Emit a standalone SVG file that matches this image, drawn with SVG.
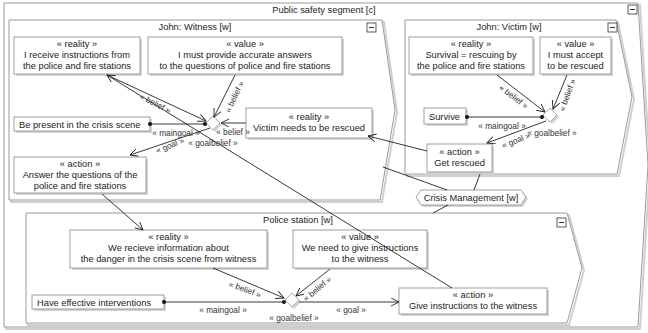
<svg xmlns="http://www.w3.org/2000/svg" width="648" height="333" viewBox="0 0 648 333">
<style>
  text { font-family: "Liberation Sans", Arial, sans-serif; font-size: 9.3px; fill: #222; }
  .t { text-anchor: middle; }
  .lbl { font-size: 8.3px; text-anchor: middle; fill: #333; }
  .cont { fill: #fff; stroke: #9a9a9a; stroke-width: 1; }
  .csh { fill: none; stroke: #d0d0d0; stroke-width: 2; }
  .node { fill: #fff; stroke: #888; stroke-width: 0.8; }
  .nsh { fill: #d4d4d4; }
  .ln { fill: none; stroke: #222; stroke-width: 0.9; }
  .dot { fill: #111; }
  .dia { fill: #fff; stroke: #999; stroke-width: 0.8; }
  .icon { fill: #fff; stroke: #333; stroke-width: 0.8; }
</style>
<defs>
  <marker id="arr" markerWidth="10" markerHeight="10" refX="8" refY="4" orient="auto" markerUnits="userSpaceOnUse">
    <path d="M0,0 L8,4 L0,8" fill="none" stroke="#222" stroke-width="0.9"/>
  </marker>
</defs>

<!-- Outer container -->
<g id="public-safety">
  <polygon class="csh" points="6,5 640,5 650,167 640,329 6,329"/>
  <polygon class="cont" points="4,3 638,3 648,165 638,327 4,327"/>
  <text class="t" x="324" y="13">Public safety segment [c]</text>
  <rect class="icon" x="628" y="5" width="9" height="9"/><line x1="630" y1="9.5" x2="635" y2="9.5" stroke="#333"/>
</g>

<!-- Witness container -->
<g id="witness">
  <polygon class="csh" points="11,22 384,22 397,112 382,202 11,202"/>
  <polygon class="cont" points="9,20 382,20 395,110 380,200 9,200"/>
  <text class="t" x="195" y="30">John: Witness [w]</text>
  <rect class="icon" x="367" y="23" width="9" height="9"/><line x1="369" y1="27.5" x2="374" y2="27.5" stroke="#333"/>
</g>

<!-- Victim container -->
<g id="victim">
  <polygon class="csh" points="407,22 618,22 634,99 619,176 407,176"/>
  <polygon class="cont" points="405,20 616,20 632,97 617,174 405,174"/>
  <text class="t" x="509" y="30">John: Victim [w]</text>
  <rect class="icon" x="608" y="23" width="9" height="9"/><line x1="610" y1="27.5" x2="615" y2="27.5" stroke="#333"/>
</g>

<!-- Police container -->
<g id="police">
  <polygon class="csh" points="28,215 569,215 584,270 569,325 28,325"/>
  <polygon class="cont" points="26,213 567,213 582,268 567,323 26,323"/>
  <text class="t" x="298" y="223">Police station [w]</text>
  <rect class="icon" x="557" y="218" width="9" height="9"/><line x1="559" y1="222.5" x2="564" y2="222.5" stroke="#333"/>
</g>

<!-- Crisis management -->
<g id="crisis">
  <polygon points="418,199 423,192 523,192 528,199 523,207 423,207" fill="#d4d4d4"/>
  <polygon points="416,197 421,190 521,190 526,197 521,205 421,205" fill="#fff" stroke="#888" stroke-width="0.8"/>
  <text class="t" x="471" y="201">Crisis Management [w]</text>
</g>

<!-- Witness nodes -->
<g id="w-reality">
  <rect class="nsh" x="16" y="39" width="126" height="37"/>
  <rect class="node" x="14" y="37" width="126" height="37"/>
  <text class="t" x="77" y="47">« reality »</text>
  <text class="t" x="77" y="58">I receive instructions from</text>
  <text class="t" x="77" y="69">the police and fire stations</text>
</g>
<g id="w-value">
  <rect class="nsh" x="150" y="39" width="194" height="37"/>
  <rect class="node" x="148" y="37" width="194" height="37"/>
  <text class="t" x="245" y="47">« value »</text>
  <text class="t" x="245" y="58">I must provide accurate answers</text>
  <text class="t" x="245" y="69">to the questions of police and fire stations</text>
</g>
<g id="w-present">
  <rect class="nsh" x="16" y="119" width="136" height="14"/>
  <rect class="node" x="14" y="117" width="136" height="14"/>
  <text x="19" y="127.5">Be present in the crisis scene</text>
</g>
<g id="w-victim-needs">
  <rect class="nsh" x="248" y="110" width="126" height="30"/>
  <rect class="node" x="246" y="108" width="126" height="30"/>
  <text class="t" x="309" y="120">« reality »</text>
  <text class="t" x="309" y="131">Victim needs to be rescued</text>
</g>
<g id="w-answer">
  <rect class="nsh" x="16" y="159" width="132" height="36"/>
  <rect class="node" x="14" y="157" width="132" height="36"/>
  <text class="t" x="80" y="167">« action »</text>
  <text class="t" x="80" y="178">Answer the questions of the</text>
  <text class="t" x="80" y="189">police and fire stations</text>
</g>
<g id="w-diamond">
  <polygon points="215,118 222,125 215,132 208,125" fill="#d4d4d4"/>
  <polygon class="dia" points="213,116 220,123 213,130 206,123"/>
</g>

<!-- Victim nodes -->
<g id="v-reality">
  <rect class="nsh" x="411" y="39" width="124" height="37"/>
  <rect class="node" x="409" y="37" width="124" height="37"/>
  <text class="t" x="471" y="47">« reality »</text>
  <text class="t" x="471" y="58">Survival = rescuing by</text>
  <text class="t" x="471" y="69">the police and fire stations</text>
</g>
<g id="v-value">
  <rect class="nsh" x="542" y="39" width="71" height="37"/>
  <rect class="node" x="540" y="37" width="71" height="37"/>
  <text class="t" x="575.5" y="47">« value »</text>
  <text class="t" x="575.5" y="58">I must accept</text>
  <text class="t" x="575.5" y="69">to be rescued</text>
</g>
<g id="v-survive">
  <rect class="nsh" x="426" y="110" width="42" height="16"/>
  <rect class="node" x="424" y="108" width="42" height="16"/>
  <text x="429" y="119.5">Survive</text>
</g>
<g id="v-getrescued">
  <rect class="nsh" x="429" y="146" width="65" height="28"/>
  <rect class="node" x="427" y="144" width="65" height="28"/>
  <text class="t" x="459.5" y="155">« action »</text>
  <text class="t" x="459.5" y="166">Get rescued</text>
</g>
<g id="v-diamond">
  <polygon points="552,110 559,117 552,124 545,117" fill="#d4d4d4"/>
  <polygon class="dia" points="550,108 557,115 550,122 543,115"/>
</g>

<!-- Police nodes -->
<g id="p-reality">
  <rect class="nsh" x="72" y="232" width="197" height="38"/>
  <rect class="node" x="70" y="230" width="197" height="38"/>
  <text class="t" x="168.5" y="240">« reality »</text>
  <text class="t" x="168.5" y="251">We recieve information about</text>
  <text class="t" x="168.5" y="262">the danger in the crisis scene from witness</text>
</g>
<g id="p-value">
  <rect class="nsh" x="295" y="232" width="134" height="38"/>
  <rect class="node" x="293" y="230" width="134" height="38"/>
  <text class="t" x="360" y="240">« value »</text>
  <text class="t" x="360" y="251">We need to give instructions</text>
  <text class="t" x="360" y="262">to the witness</text>
</g>
<g id="p-effective">
  <rect class="nsh" x="34" y="297" width="132" height="14"/>
  <rect class="node" x="32" y="295" width="132" height="14"/>
  <text x="37" y="305.5">Have effective interventions</text>
</g>
<g id="p-give">
  <rect class="nsh" x="401" y="290" width="148" height="26"/>
  <rect class="node" x="399" y="288" width="148" height="26"/>
  <text class="t" x="473" y="298">« action »</text>
  <text class="t" x="473" y="309">Give instructions to the witness</text>
</g>
<g id="p-diamond">
  <polygon points="294,295 301,302 294,309 287,302" fill="#d4d4d4"/>
  <polygon class="dia" points="292,293 299,300 292,307 285,300"/>
</g>

<!-- Connectors -->
<g id="connectors">
  <!-- witness -->
  <line class="ln" x1="107" y1="75" x2="206" y2="121" marker-end="url(#arr)"/>
  <line class="ln" x1="235" y1="75" x2="214" y2="117" marker-end="url(#arr)"/>
  <line class="ln" x1="246" y1="123" x2="221" y2="123" marker-end="url(#arr)"/>
  <line class="ln" x1="150" y1="124" x2="205" y2="124"/>
  <circle class="dot" cx="150" cy="124" r="2"/><circle class="dot" cx="205" cy="124" r="2"/>
  <line class="ln" x1="210" y1="128" x2="130" y2="155" marker-end="url(#arr)"/>
  <!-- victim -->
  <line class="ln" x1="497" y1="75" x2="545" y2="112" marker-end="url(#arr)"/>
  <line class="ln" x1="567" y1="75" x2="553" y2="109" marker-end="url(#arr)"/>
  <line class="ln" x1="467" y1="117" x2="542" y2="117"/>
  <circle class="dot" cx="467" cy="117" r="2"/><circle class="dot" cx="542" cy="117" r="2"/>
  <line class="ln" x1="546" y1="121" x2="487" y2="143" marker-end="url(#arr)"/>
  <!-- police -->
  <line class="ln" x1="213" y1="268" x2="284" y2="298" marker-end="url(#arr)"/>
  <line class="ln" x1="330" y1="269" x2="296" y2="296" marker-end="url(#arr)"/>
  <line class="ln" x1="164" y1="302" x2="284" y2="302"/>
  <circle class="dot" cx="164" cy="302" r="2"/><circle class="dot" cx="284" cy="302" r="2"/>
  <line class="ln" x1="299" y1="302" x2="399" y2="302" marker-end="url(#arr)"/>
  <!-- cross-segment -->
  <line class="ln" x1="452" y1="288" x2="107" y2="75" marker-end="url(#arr)"/>
  <line class="ln" x1="102" y1="194" x2="143" y2="230" marker-end="url(#arr)"/>
  <line class="ln" x1="427" y1="151" x2="368" y2="136" marker-end="url(#arr)"/>
  <!-- crisis management links -->
  <line class="ln" x1="383" y1="167" x2="447" y2="190"/>
  <line class="ln" x1="480" y1="174" x2="474" y2="190"/>
  <line class="ln" x1="448" y1="205" x2="433" y2="213"/>

  <!-- labels -->
  <text class="lbl" transform="translate(154,106) rotate(27)">« belief »</text>
  <text class="lbl" transform="translate(237,98) rotate(-65)">« belief »</text>
  <text class="lbl" x="233" y="135">« belief »</text>
  <text class="lbl" x="176" y="136">« maingoal »</text>
  <text class="lbl" transform="translate(171,148) rotate(-22)">« goal »</text>
  <text class="lbl" x="213" y="145.5">« goalbelief »</text>

  <text class="lbl" transform="translate(512,99) rotate(37)">« belief »</text>
  <text class="lbl" transform="translate(570,96) rotate(-70)">« belief »</text>
  <text class="lbl" x="502" y="129">« maingoal »</text>
  <text class="lbl" transform="translate(517,143) rotate(-22)">« goal »</text>
  <text class="lbl" x="552" y="136">« goalbelief »</text>

  <text class="lbl" transform="translate(244,292) rotate(20)">« belief »</text>
  <text class="lbl" transform="translate(319,291) rotate(-40)">« belief »</text>
  <text class="lbl" x="223" y="313">« maingoal »</text>
  <text class="lbl" x="351" y="313">« goal »</text>
  <text class="lbl" x="294" y="321">« goalbelief »</text>
</g>
</svg>
